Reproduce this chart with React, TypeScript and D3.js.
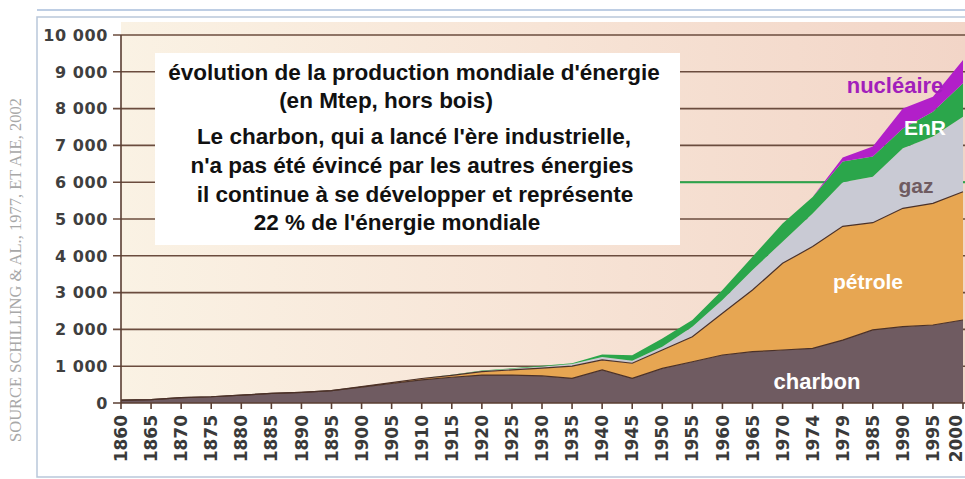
import React from "react";
import * as d3 from "d3";

const years = ["1860","1865","1870","1875","1880","1885","1890","1895","1900","1905","1910","1915","1920","1925","1930","1935","1940","1945","1950","1955","1960","1965","1970","1974","1979","1985","1990","1995","2000"];
const charbon = [80,90,145,170,215,260,290,335,430,530,630,700,760,760,735,670,900,670,940,1120,1305,1395,1440,1485,1710,1985,2075,2120,2255];
const petrole = [0,0,0,0,0,0,0,0,15,25,35,50,90,140,210,330,270,410,500,680,1135,1675,2355,2765,3090,2915,3215,3305,3485];
const gaz = [0,0,0,0,0,0,0,0,0,0,5,10,20,30,50,60,80,70,90,275,360,545,590,900,1200,1250,1630,1815,2040];
const enr = [0,0,0,0,0,0,0,0,0,0,5,10,10,15,20,20,70,150,220,180,270,360,495,450,560,550,540,675,910];
const nucleaire = [0,0,0,0,0,0,0,0,0,0,0,0,0,0,0,0,0,0,0,0,0,0,0,0,110,270,540,405,630];
const yTicks = [0,1000,2000,3000,4000,5000,6000,7000,8000,9000,10000];
const keys = ["charbon","petrole","gaz","enr","nucleaire"];
const colors: Record<string,string> = {charbon:"#6f5b61",petrole:"#e7a652",gaz:"#c9cad4",enr:"#2ba64b",nucleaire:"#b21fc9"};
const textLines = [
  "évolution de la production mondiale d'énergie",
  "(en Mtep, hors bois)",
  "Le charbon, qui a lancé l'ère industrielle,",
  "n'a pas été évincé par les autres énergies",
  "il continue à se développer et représente",
  "22 % de l'énergie mondiale",
];

export default function App() {
  const W = 965, H = 479;
  const x = d3.scalePoint<string>().domain(years).range([121, 963]);
  const y = d3.scaleLinear().domain([0, 10000]).range([403, 35]);
  const rows = years.map((yr, i) => ({ year: yr, charbon: charbon[i], petrole: petrole[i], gaz: gaz[i], enr: enr[i], nucleaire: nucleaire[i] }));
  const series = d3.stack<any>().keys(keys)(rows);
  const area = d3.area<any>().x((d) => x(d.data.year)!).y0((d) => y(d[0])).y1((d) => y(d[1]));
  const topLine = d3.line<any>().x((d) => x(d.data.year)!).y((d) => y(d[1]));
  const boxX = 155, boxY = 53, boxW = 525, boxH = 192;
  const lineY = [80, 108, 144, 173, 202, 230];
  const lineX = [414, 386, 414, 412, 415, 397];
  const font = "'DejaVu Sans', Verdana, sans-serif";
  const arial = "'Liberation Sans', Arial, sans-serif";
  return (
    <div style={{ width: W, height: H, overflow: "hidden", position: "absolute", left: 0, top: 0 }}>
    <svg width={W} height={H} style={{ display: "block", background: "#fff" }}>
      <defs>
        <linearGradient id="bg" x1="0" x2="1" y1="0" y2="0">
          <stop offset="0" stopColor="#faf2e4" />
          <stop offset="0.5" stopColor="#f7e4d6" />
          <stop offset="1" stopColor="#f2d5c7" />
        </linearGradient>
      </defs>
      <line x1={37} x2={W} y1={10} y2={10} stroke="#a9bedb" strokeWidth={1.5} />
      <rect x={37} y={17} width={W} height={460} fill="#fff" stroke="#b9c7da" strokeWidth={1.5} />
      <rect x={121} y={22} width={W - 121} height={403 - 22} fill="url(#bg)" />
      <text transform="translate(21,270) rotate(-90)" textAnchor="middle" fontFamily="'Liberation Serif', 'DejaVu Serif', serif" fontSize={16.5} fill="#a8a8a8">SOURCE SCHILLING &amp; AL., 1977, ET AIE, 2002</text>
      {yTicks.filter((t) => t > 0).map((t) => (
        <line key={t} x1={113} x2={W} y1={y(t)} y2={y(t)} stroke="#6b4c3e" strokeWidth={1.6} />
      ))}
      <line x1={boxX + boxW} x2={W} y1={y(6000)} y2={y(6000)} stroke="#2ba64b" strokeWidth={2} />
      {series.map((s) => (
        <path key={s.key} d={area(s)!} fill={colors[s.key]} />
      ))}
      {series.slice(0, 2).map((s) => (
        <path key={s.key + "l"} d={topLine(s)!} fill="none" stroke="#4b3128" strokeWidth={1.2} />
      ))}
      <line x1={121} x2={121} y1={y(10000)} y2={y(0)} stroke="#5a3e32" strokeWidth={1.6} />
      <line x1={113} x2={W} y1={y(0)} y2={y(0)} stroke="#5a3e32" strokeWidth={1.6} />
      {years.map((yr) => (
        <line key={yr} x1={x(yr)} x2={x(yr)} y1={y(0)} y2={y(0) + 6} stroke="#5a3e32" strokeWidth={1.6} />
      ))}
      {yTicks.map((t) => (
        <text key={t} x={108} y={y(t)} dy="0.36em" textAnchor="end" fontFamily={font} fontWeight="bold" fontSize={16} letterSpacing={0.6} fill="#3f3f3f">{d3.format(",")(t).replace(/,/g, " ")}</text>
      ))}
      {years.map((yr) => (
        <text key={yr} transform={`translate(${Math.min(x(yr)!, 956)},${y(0) + 12}) rotate(-90)`} dy="0.36em" textAnchor="end" fontFamily={font} fontWeight="bold" fontSize={17} fill="#3a3a3a">{yr}</text>
      ))}
      <rect x={boxX} y={boxY} width={boxW} height={boxH} fill="#fff" />
      {textLines.map((t, i) => (
        <text key={i} x={lineX[i]} y={lineY[i]} textAnchor="middle" fontFamily={arial} fontWeight="bold" fontSize={22.5} fill="#111">{t}</text>
      ))}
      <text x={817} y={y(600)} dy="0.36em" textAnchor="middle" fontFamily={arial} fontWeight="bold" fontSize={22} fill="#fff">charbon</text>
      <text x={868} y={y(3300)} dy="0.36em" textAnchor="middle" fontFamily={arial} fontWeight="bold" fontSize={21} fill="#fff">pétrole</text>
      <text x={916} y={y(5900)} dy="0.36em" textAnchor="middle" fontFamily={arial} fontWeight="bold" fontSize={21} fill="#6f5b61">gaz</text>
      <text x={925} y={y(7480)} dy="0.36em" textAnchor="middle" fontFamily={arial} fontWeight="bold" fontSize={21} fill="#fff">EnR</text>
      <text x={895} y={y(8640)} dy="0.36em" textAnchor="middle" fontFamily={arial} fontWeight="bold" fontSize={22} fill="#a21fbb">nucléaire</text>
    </svg>
    </div>
  );
}
